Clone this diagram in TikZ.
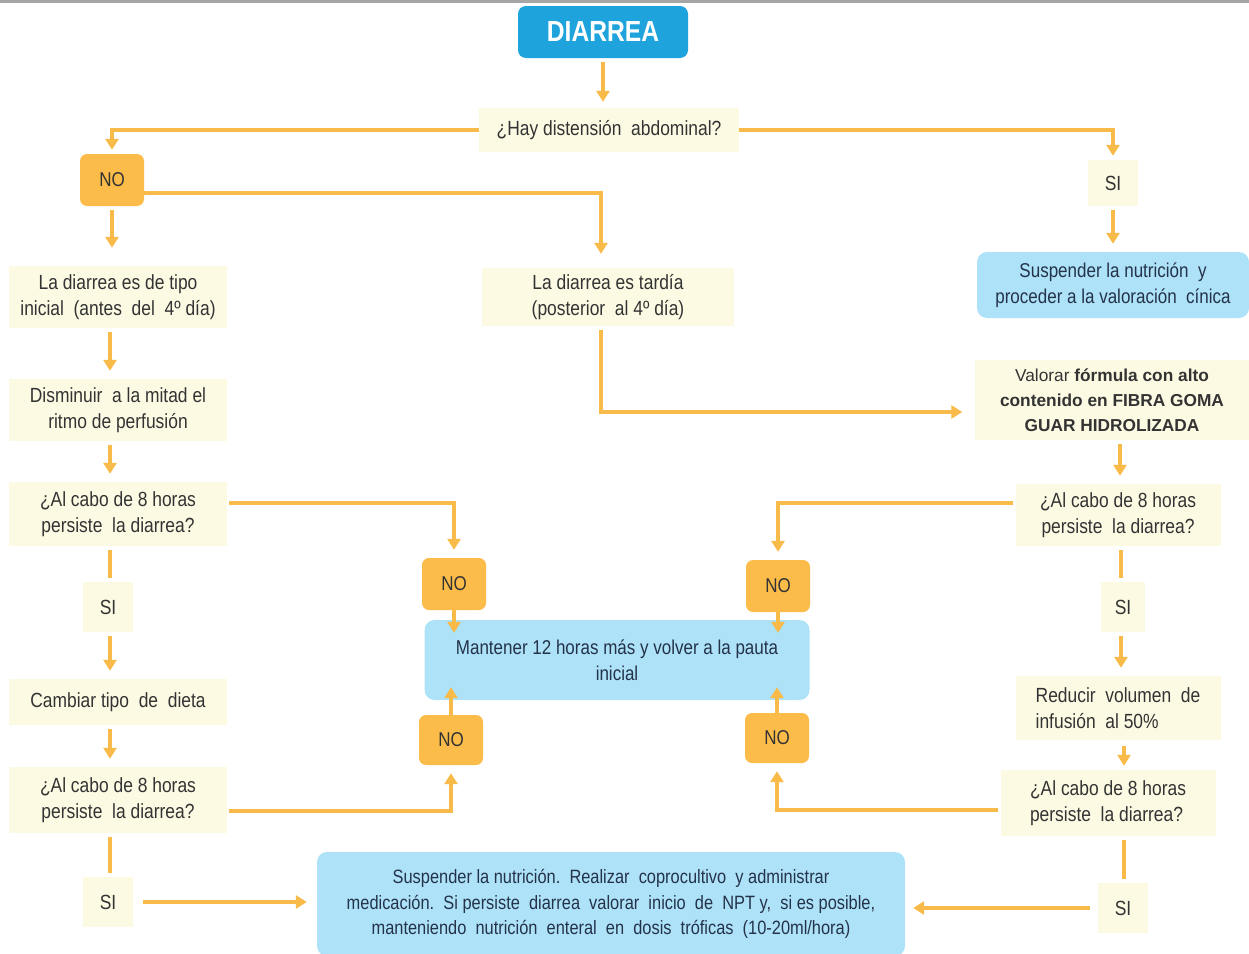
\documentclass[tikz,border=0pt]{standalone}
\usepackage{fontspec}
\setmainfont[FakeStretch=0.85]{Liberation Sans}
\newfontfamily\widefont{Liberation Sans}
\usetikzlibrary{arrows.meta}
\definecolor{orng}{HTML}{FBBC4A}
\definecolor{arrc}{HTML}{F8BA48}
\definecolor{creamc}{HTML}{FDFAE4}
\definecolor{lblue}{HTML}{ADE2F8}
\definecolor{dblue}{HTML}{1EA3DC}
\definecolor{txt}{HTML}{333333}
\definecolor{btxt}{HTML}{24334A}
\definecolor{topgray}{HTML}{A6A6A6}
\tikzset{
  cream/.style={fill=creamc, text=txt, align=center, inner sep=0pt, font=\fontsize{20.5}{26}\selectfont},
  nobox/.style={fill=orng, rounded corners=7pt, minimum width=64pt, minimum height=52pt, inner sep=0pt, text=txt, font=\fontsize{20}{22}\selectfont},
  bluebox/.style={fill=lblue, rounded corners=10pt, text=btxt, align=center, inner sep=0pt, font=\fontsize{20}{26}\selectfont},
  arr/.style={draw=arrc, line width=4pt, -{Triangle[width=13pt,length=11pt]}, shorten >=8pt, shorten <=4pt},
  ln/.style={draw=arrc, line width=4pt, shorten >=4pt, shorten <=4pt},
}
\begin{document}
\begin{tikzpicture}[x=1pt,y=-1pt]
\useasboundingbox (0,0) rectangle (1249,953);
\fill[topgray] (0,0) rectangle (1249,3);

% nodes
\node[fill=dblue, rounded corners=8pt, minimum width=170pt, minimum height=52pt, text=white, font=\fontsize{29}{30}\selectfont\bfseries] (diarrea) at (603,32) {DIARREA};
\node[cream, minimum width=260pt, minimum height=44pt] (q1) at (609,130) {¿Hay distensión\ \ abdominal?};
\node[nobox] (no1) at (112,180) {NO};
\node[cream, minimum width=50pt, minimum height=46pt] (si1) at (1113,183) {SI};
\node[bluebox, minimum width=272pt, minimum height=66pt] (susp1) at (1113,285) {Suspender la nutrición\ \ y\\proceder a la valoración\ \ cínica};
\node[cream, minimum width=218pt, minimum height=62pt] (ini) at (118,297) {La diarrea es de tipo\\inicial\ \ (antes\ \ del\ \ 4º día)};
\node[cream, minimum width=252pt, minimum height=58pt] (tard) at (608,297) {La diarrea es tardía\\(posterior\ \ al 4º día)};
\node[cream, minimum width=275pt, minimum height=80pt, font=\fontsize{17.3}{25}\selectfont] (val) at (1112,400) {\widefont Valorar \textbf{fórmula con alto}\\\widefont\textbf{contenido en FIBRA GOMA}\\\widefont\textbf{GUAR HIDROLIZADA}};
\node[cream, minimum width=218pt, minimum height=62pt] (dism) at (118,410) {Disminuir\ \ a la mitad el\\ritmo de perfusión};
\node[cream, minimum width=218pt, minimum height=64pt] (q2) at (118,514) {¿Al cabo de 8 horas\\persiste\ \ la diarrea?};
\node[nobox] (noA) at (454,584) {NO};
\node[bluebox, minimum width=385pt, minimum height=80pt] (mant) at (617,660) {Mantener 12 horas más y volver a la pauta\\inicial};
\node[cream, minimum width=50pt, minimum height=50pt] (si2) at (108,607) {SI};
\node[cream, minimum width=218pt, minimum height=46pt] (cam) at (118,702) {Cambiar tipo\ \ de\ \ dieta};
\node[cream, minimum width=218pt, minimum height=66pt] (q3) at (118,800) {¿Al cabo de 8 horas\\persiste\ \ la diarrea?};
\node[nobox, minimum height=50pt] (noB) at (451,740) {NO};
\node[cream, minimum width=50pt, minimum height=50pt] (si3) at (108,902) {SI};
\node[bluebox, minimum width=588pt, minimum height=104pt, font=\fontsize{19.3}{25.5}\selectfont] (bot) at (611,904) {Suspender la nutrición.\ \ Realizar\ \ coprocultivo\ \ y administrar\\medicación.\ \ Si persiste\ \ diarrea\ \ valorar\ \ inicio\ \ de\ \ NPT y,\ \ si es posible,\\manteniendo\ \ nutrición\ \ enteral\ \ en\ \ dosis\ \ tróficas\ \ (10-20ml/hora)};
\node[cream, minimum width=205pt, minimum height=62pt] (q4) at (1118,515) {¿Al cabo de 8 horas\\persiste\ \ la diarrea?};
\node[nobox] (noC) at (778,586) {NO};
\node[cream, minimum width=44pt, minimum height=50pt] (si4) at (1123,607) {SI};
\node[cream, minimum width=205pt, minimum height=64pt, align=left] (red) at (1118,708) {Reducir\ \ volumen\ \ de\\infusión\ \ al 50\%};
\node[cream, minimum width=215pt, minimum height=66pt, align=left] (q5) at (1108,803) {¿Al cabo de 8 horas\\persiste\ \ la diarrea?};
\node[nobox, minimum height=50pt] (noD) at (777,738) {NO};
\node[cream, minimum width=50pt, minimum height=50pt] (si5) at (1123,908) {SI};

% connectors
\draw[arr, shorten >=6pt] (diarrea.south) -- (diarrea.south |- q1.north);
\draw[arr, shorten <=0pt, shorten >=4pt] (q1.west) -| (no1.north);
\draw[arr, shorten <=0pt, shorten >=4pt] (q1.east) -| (si1.north);
\draw[arr, shorten <=0pt, shorten >=14pt] ([yshift=-13pt]no1.east) -| ([xshift=-7pt]tard.north);
\draw[arr, shorten >=18pt] (no1.south) -- (no1.south |- ini.north);
\draw[arr] (si1.south) -- (si1.south |- susp1.north);
\draw[arr, shorten >=12pt] ([xshift=-7pt]tard.south) |- ([yshift=-12pt]val.west);
\draw[arr] ([xshift=-8pt]ini.south) -- ([xshift=-8pt]dism.north);
\draw[arr] ([xshift=-8pt]dism.south) -- ([xshift=-8pt]q2.north);
\draw[arr, shorten <=2pt] ([yshift=11pt]q2.east) -| (noA.north);
\draw[arr, shorten >=-13pt, shorten <=0pt] (noA.south) -- (noA.south |- mant.north);
\draw[ln] ([xshift=-8pt]q2.south) -- ([xshift=-8pt]q2.south |- si2.north);
\draw[arr] ([xshift=-8pt]si2.south -| q2.south) -- ([xshift=-8pt]cam.north);
\draw[arr] ([xshift=-8pt]cam.south) -- ([xshift=-8pt]q3.north);
\draw[arr, shorten <=2pt] ([yshift=-11pt]q3.east) -| (noB.south);
\draw[arr, shorten >=-13pt, shorten <=0pt] (noB.north) -- (noB.north |- mant.south);
\draw[ln] ([xshift=-8pt]q3.south) -- ([xshift=-8pt]q3.south |- si3.north);
\draw[arr, shorten <=10pt, shorten >=10pt] (si3.east) -- (si3.east -| bot.west);
\draw[arr] ([xshift=8pt]val.south) -- ([xshift=2pt]q4.north);
\draw[arr, shorten <=2pt] ([yshift=12pt]q4.west) -| (noC.north);
\draw[arr, shorten >=-13pt, shorten <=0pt] (noC.south) -- (noC.south |- mant.north);
\draw[ln] ([xshift=3pt]q4.south) -- ([xshift=3pt]q4.south |- si4.north);
\draw[arr] ([xshift=3pt]q4.south |- si4.south) -- ([xshift=3pt]q4.south |- red.north);
\draw[arr, shorten >=4pt, shorten <=6pt] ([xshift=6pt]red.south) -- ([xshift=6pt]red.south |- q5.north);
\draw[arr, shorten <=2pt] ([yshift=-7pt]q5.west) -| (noD.south);
\draw[arr, shorten >=-13pt, shorten <=0pt] (noD.north) -- (noD.north |- mant.south);
\draw[ln] ([xshift=16pt]q5.south) -- ([xshift=16pt]q5.south |- si5.north);
\draw[arr, shorten <=8pt, shorten >=8pt] (si5.west) -- (si5.west -| bot.east);
\end{tikzpicture}
\end{document}
